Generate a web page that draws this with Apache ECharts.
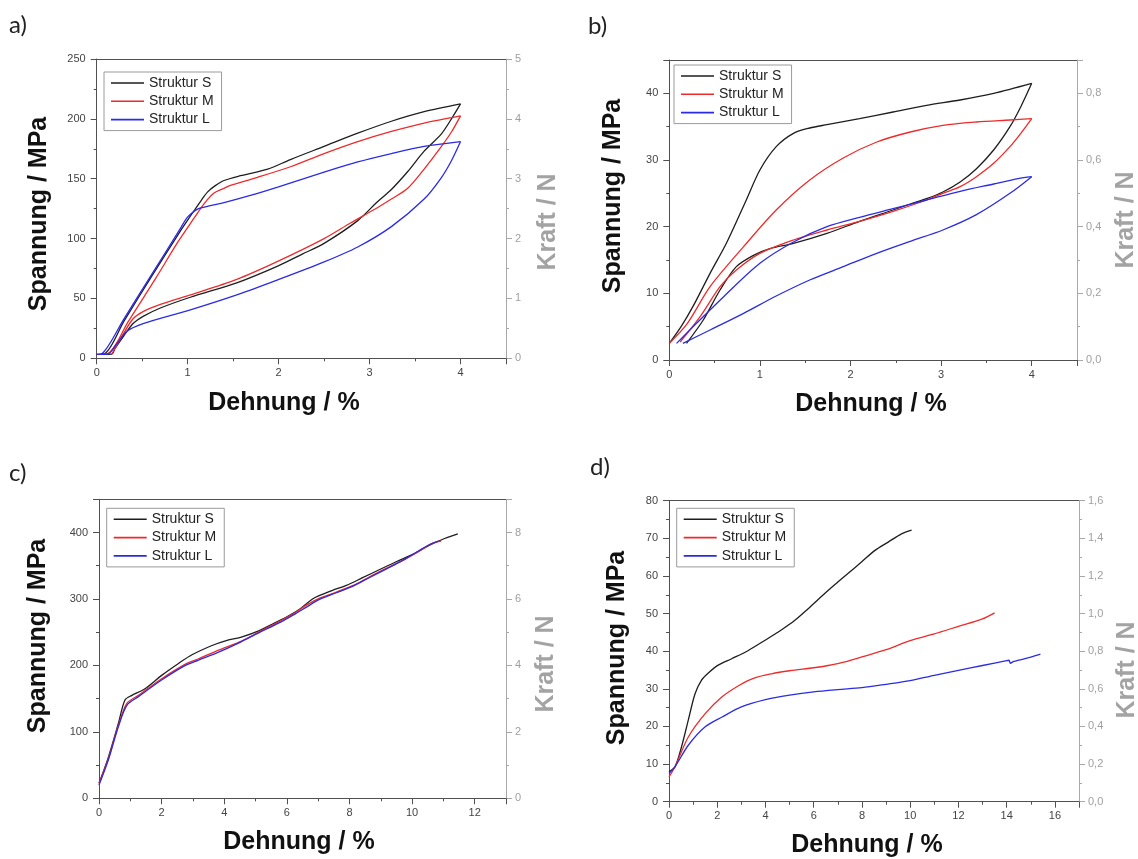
<!DOCTYPE html>
<html><head><meta charset="utf-8">
<script src="https://cdn.jsdelivr.net/npm/echarts@6/dist/echarts.min.js"></script>
<style>html,body{margin:0;padding:0;background:#fff}#c{width:1138px;height:859px}</style>
</head><body><div id="c"></div>
<script>
// ---------- data (Dehnung %, Spannung MPa) ----------
const seriesNames = ['Struktur S', 'Struktur M', 'Struktur L'];

// panel a) hysteresis loops
const aS_load = [[0,3.3],[0.09,4],[0.3,31],[0.6,68],[0.9,104],[1.05,121],[1.15,132],[1.22,139],[1.3,144],[1.4,148.5],[1.58,152.5],[1.88,158],[2.13,166],[2.5,177],[2.87,188],[3.24,198],[3.6,206],[4.0,212.5]];
const aS_unload = [[4.0,212.5],[3.9,200],[3.79,187.5],[3.6,173],[3.42,156],[3.24,141],[3.09,131],[2.87,115],[2.5,96],[2.26,87],[1.99,77],[1.54,63],[1.03,51],[0.7,42],[0.51,35],[0.4,29],[0.3,19],[0.2,8],[0.165,3.5],[0.05,3.3]];
const aM_load = [[0,3.3],[0.12,4],[0.35,31],[0.65,67],[0.9,98],[1.07,117],[1.18,129],[1.29,138],[1.4,142],[1.47,144.5],[1.76,151],[2.13,160],[2.5,171],[2.87,181],[3.24,189.5],[3.6,196.5],[4.0,202.5]];
const aM_unload = [[4.0,202.5],[3.9,189],[3.79,177],[3.6,158],[3.42,142],[3.24,133],[3.09,126],[2.79,113],[2.5,100],[1.99,81],[1.54,66],[1.03,53],[0.7,45],[0.51,39],[0.4,33],[0.29,20],[0.2,8],[0.165,3.5]];
const aL_load = [[0,3.3],[0.06,4],[0.3,33],[0.6,69.5],[0.9,106],[0.99,117],[1.05,121.5],[1.12,125],[1.25,127.5],[1.4,130],[1.69,136],[1.99,143],[2.5,155.5],[2.87,164],[3.24,171],[3.6,177],[4.0,181]];
const aL_unload = [[4.0,181],[3.9,165],[3.79,151],[3.6,133],[3.24,110],[2.87,93],[2.5,80.5],[1.99,65.5],[1.54,53],[1.03,40.5],[0.51,29],[0.33,22.5],[0.22,12],[0.12,3.5],[0.05,3.3]];

// panel b) hysteresis loops
const bS_load = [[0,2.5],[0.13,5],[0.26,8],[0.45,13],[0.63,17.5],[0.85,24],[1.0,28.5],[1.18,32],[1.37,34],[1.55,34.8],[1.74,35.3],[2.1,36.2],[2.47,37.2],[2.84,38.2],[3.21,39],[3.58,40],[4.0,41.5]];
const bS_unload = [[4.0,41.5],[3.88,38],[3.76,35],[3.58,31.5],[3.39,28.7],[3.21,26.7],[3.02,25.2],[2.84,24.2],[2.66,23.4],[2.47,22.5],[2.1,20.8],[1.74,19],[1.37,17.5],[1.11,16.7],[0.93,15.7],[0.74,14],[0.56,10.5],[0.375,6],[0.19,2.5]];
const bM_load = [[0,2.5],[0.2,5.5],[0.45,11],[0.82,17],[1.18,22.5],[1.55,27],[1.92,30.3],[2.29,32.7],[2.66,34.2],[3.02,35.2],[3.39,35.7],[3.76,36],[4.0,36.2]];
const bM_unload = [[4.0,36.2],[3.88,34],[3.76,32],[3.58,29.5],[3.39,27.5],[3.21,26],[3.02,25],[2.84,24],[2.47,22.3],[2.1,20.8],[1.74,19.5],[1.37,18],[1.0,16],[0.74,13.5],[0.56,11],[0.34,6.5],[0.12,2.7]];
const bL_load = [[0.08,2.5],[0.3,5.5],[0.6,9.5],[1.0,14.5],[1.37,17.7],[1.74,20],[2.1,21.4],[2.47,22.7],[2.84,24],[3.21,25.3],[3.58,26.4],[3.85,27.2],[4.0,27.5]];
const bL_unload = [[4.0,27.5],[3.76,25],[3.39,21.8],[3.02,19.5],[2.66,17.8],[2.29,16],[1.92,14],[1.55,12],[1.18,9.6],[0.82,7],[0.45,4.5],[0.15,2.5]];

// panel c) tensile curves
const cS = [[0,22.5],[0.3,62],[0.62,113],[0.83,148],[1.05,155],[1.47,165],[2.0,185],[2.54,203],[2.97,216],[3.61,230],[4.04,237],[4.57,243],[5.1,252],[5.53,262],[5.96,272],[6.39,284],[6.82,300],[7.03,305],[7.46,313],[7.88,320],[8.42,332],[8.95,344],[9.49,356],[10.02,367],[10.56,381],[11.04,391],[11.46,398]];
const cM = [[0,22.5],[0.3,60],[0.62,110],[0.89,143],[1.26,155],[2.0,180],[2.76,202],[3.18,210],[3.82,223],[4.47,235],[5.1,250],[5.75,266],[6.28,280],[6.6,290],[7.03,301],[7.56,310],[8.1,320],[8.63,333],[9.17,346],[9.7,358],[10.23,372],[10.66,384],[10.93,387]];
const cL = [[0,20],[0.3,58],[0.62,108],[0.89,140],[1.26,153],[2.0,178],[2.76,200],[3.18,208],[3.82,220],[4.47,234],[5.1,249],[5.75,264],[6.28,278],[6.6,287],[7.03,299],[7.56,309],[8.1,319],[8.63,332],[9.17,345],[9.7,358],[10.23,373],[10.56,382],[10.85,387]];

// panel d) tensile curves
const dS = [[0,8],[0.25,9.3],[0.52,14.6],[0.8,21.7],[1.08,28.7],[1.35,32.3],[1.63,34.2],[2.04,36.3],[2.6,38],[3.29,40.2],[3.98,42.9],[4.67,45.7],[5.22,48.2],[5.77,51.3],[6.33,54.6],[6.88,57.7],[7.43,60.7],[7.98,63.7],[8.54,66.8],[9.09,69],[9.64,71.2],[10.06,72.2]];
const dM = [[0,6.6],[0.25,9.3],[0.8,17.2],[1.5,23.4],[2.2,27.9],[2.9,30.9],[3.5,32.8],[4.25,34],[5,34.8],[6,35.6],[6.6,36.2],[7.2,37],[8,38.5],[9,40.4],[10,42.8],[11,44.6],[12,46.6],[13,48.6],[13.5,50.2]];
const dL = [[0,7.5],[0.25,9.3],[0.8,15],[1.5,19.9],[2.2,22.5],[3,25.2],[4,27.1],[5,28.3],[6,29.2],[7,29.8],[8,30.3],[9,31.2],[10,32.2],[11,33.6],[12,34.9],[13,36.2],[14,37.5],[14.1,37.6],[14.15,36.8],[14.3,37.3],[15,38.4],[15.4,39.2]];

// axis ranges
const xRanges = [[0,4.5,1],[0,4.5,1],[0,13,2],[0,17,2]];
const yRanges = [[0,250,50],[0,45,10],[0,450,100],[0,80,10]];
const kraftRanges = [[0,5,1],[0,0.9,0.2],[0,9,2],[0,1.6,0.2]];
const kraftComma = [false,true,false,true];
const panelLetters = ['a)','b)','c)','d)'];

// ---------- layout / style ----------
const curves = [
  [[aS_load,aS_unload],[aM_load,aM_unload],[aL_load,aL_unload]],
  [[bS_load,bS_unload],[bM_load,bM_unload],[bL_load,bL_unload]],
  [[cS],[cM],[cL]],
  [[dS],[dM],[dL]]
];
const grids = [
  {left:96.7, top:59, width:409.3, height:299.3},
  {left:669.3, top:60, width:407.7, height:300},
  {left:99, top:499.3, width:407, height:299},
  {left:669, top:500.7, width:410, height:301}
];
const legendPos = [{left:104,top:72},{left:674,top:65},{left:106.7,top:508.3},{left:676.7,top:508.3}];
const letterPos = [[9,25.5],[588,26],[9,473],[590,467.5]];
const leftTitlePos = [[39.5,214],[613,196],[38,636],[617,648]];
const rightTitlePos = [[548,222],[1126,220],[546,664],[1127,670]];
const bottomTitlePos = [[284,403],[871,404],[299,842],[867,845]];

const colors = ['#1e1e1e','#ee2b2b','#2b2be6'];
const AX = '#505050', RX = '#a8a8a8';
const FONT = 'Liberation Sans, Arial, sans-serif';
const isMult = (m, i) => Math.abs(m / i - Math.round(m / i)) < 1e-6;

const xAxes = [], yAxes = [], series = [], legends = [], graphics = [];

grids.forEach((g, i) => {
  const [x0, x1, xi] = xRanges[i];
  const [y0, y1, yi] = yRanges[i];
  xAxes.push({
    type:'value', gridIndex:i, position:'bottom', min:x0, max:x1, interval:xi,
    axisLine:{show:true, onZero:false, lineStyle:{color:AX, width:1}},
    axisTick:{show:true, inside:false, length:6, lineStyle:{color:AX}},
    minorTick:{show:true, splitNumber:2, length:3, lineStyle:{color:AX}},
    axisLabel:{color:'#444', fontSize:11, fontFamily:FONT, margin:9, showMinLabel:true, showMaxLabel:isMult(x1, xi)},
    splitLine:{show:false}
  });
  yAxes.push({
    type:'value', gridIndex:i, position:'left', min:y0, max:y1, interval:yi,
    axisLine:{show:true, onZero:false, lineStyle:{color:AX, width:1}},
    axisTick:{show:true, inside:false, length:6, lineStyle:{color:AX}},
    minorTick:{show:true, splitNumber:2, length:3, lineStyle:{color:AX}},
    axisLabel:{color:'#444', fontSize:11, fontFamily:FONT, margin:11, showMinLabel:true, showMaxLabel:isMult(y1, yi)},
    splitLine:{show:false}
  });
});
grids.forEach((g, i) => {
  const [x0, x1] = xRanges[i];
  xAxes.push({
    type:'value', gridIndex:i, position:'top', min:x0, max:x1,
    axisLine:{show:true, onZero:false, lineStyle:{color:AX, width:1}},
    axisTick:{show:false}, axisLabel:{show:false}, splitLine:{show:false}
  });
});
grids.forEach((g, i) => {
  const [k0, k1, ki] = kraftRanges[i];
  const comma = kraftComma[i];
  yAxes.push({
    type:'value', gridIndex:i, position:'right', min:k0, max:k1, interval:ki,
    axisLine:{show:true, onZero:false, lineStyle:{color:RX, width:1}},
    axisTick:{show:true, inside:false, length:6, lineStyle:{color:RX}},
    minorTick:{show:true, splitNumber:2, length:3, lineStyle:{color:RX}},
    axisLabel:{color:'#a0a0a0', fontSize:11, fontFamily:FONT, margin:9, showMinLabel:true, showMaxLabel:isMult(k1, ki),
      formatter: v => comma ? v.toFixed(1).replace('.', ',') : String(Math.round(v))},
    splitLine:{show:false}
  });
});

curves.forEach((panel, i) => {
  panel.forEach((branches, k) => {
    branches.forEach(data => {
      series.push({
        type:'line', name:seriesNames[k], xAxisIndex:i, yAxisIndex:i, data:data,
        symbol:'none', showSymbol:false, smooth:0.3, clip:true,
        lineStyle:{width:1.3, color:colors[k]}, itemStyle:{color:colors[k]},
        emphasis:{disabled:true}, animation:false
      });
    });
  });
  legends.push({
    show:true, orient:'vertical', left:legendPos[i].left, top:legendPos[i].top,
    data:seriesNames, icon:'rect', itemWidth:33, itemHeight:1.6, itemGap:4.3,
    padding:[4,8,4,7], borderColor:'#9a9a9a', borderWidth:1, backgroundColor:'#fff',
    selectedMode:false,
    textStyle:{fontSize:14, fontFamily:FONT, color:'#222', lineHeight:14}
  });
  graphics.push({type:'text', x:letterPos[i][0], y:letterPos[i][1],
    style:{text:panelLetters[i], fontSize:24, fontFamily:'Lato, Open Sans, sans-serif', fill:'#222', align:'left', verticalAlign:'middle'}});
  graphics.push({type:'text', x:leftTitlePos[i][0], y:leftTitlePos[i][1], rotation:Math.PI/2,
    style:{text:'Spannung / MPa', fontSize:25, fontWeight:'bold', fontFamily:FONT, fill:'#111', align:'center', verticalAlign:'middle'}});
  graphics.push({type:'text', x:rightTitlePos[i][0], y:rightTitlePos[i][1], rotation:Math.PI/2,
    style:{text:'Kraft / N', fontSize:25, fontWeight:'bold', fontFamily:FONT, fill:'#a3a3a3', align:'center', verticalAlign:'middle'}});
  graphics.push({type:'text', x:bottomTitlePos[i][0], y:bottomTitlePos[i][1],
    style:{text:'Dehnung / %', fontSize:25, fontWeight:'bold', fontFamily:FONT, fill:'#111', align:'center', verticalAlign:'middle'}});
});

const chart = echarts.init(document.getElementById('c'), null, {renderer:'canvas'});
chart.setOption({
  backgroundColor:'#fff',
  animation:false,
  grid: grids.map(g => Object.assign({containLabel:false, outerBoundsMode:'none'}, g)),
  xAxis: xAxes,
  yAxis: yAxes,
  legend: legends,
  series: series,
  graphic: graphics
});
</script></body></html>
